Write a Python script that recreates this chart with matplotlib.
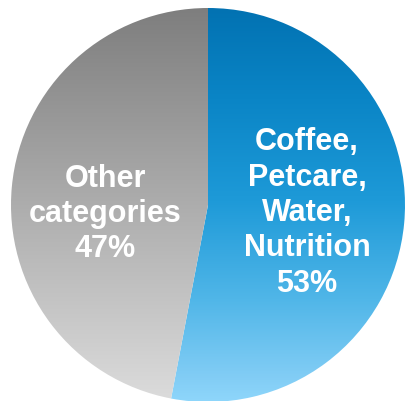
import numpy as np
import matplotlib.pyplot as plt
from matplotlib.colors import LinearSegmentedColormap

labels = ['Coffee,\nPetcare,\nWater,\nNutrition\n53%', 'Other\ncategories\n47%']
shares = [53, 47]
# colour stops of each slice, top -> bottom
grad_colors = [
    [(0.0, '#0272b2'), (0.23, '#0a85c6'), (0.49, '#1e9ad8'),
     (0.74, '#50b6e8'), (0.94, '#82cdf5'), (1.0, '#8ed6fb')],
    [(0.0, '#7e7e7e'), (1.0, '#dcdcdc')],
]

W, H = 405, 401
fig = plt.figure(figsize=(W / 100, H / 100), dpi=100)
ax = fig.add_axes([0, 0, 1, 1])

cx, cy, r = 208, 196, 197
wedges, _ = ax.pie(shares, startangle=90, counterclock=False, radius=r,
                   center=(cx, cy), frame=True,
                   wedgeprops=dict(facecolor='none', edgecolor='none'))
ax.set_xlim(0, W)
ax.set_ylim(0, H)
ax.set_aspect('equal')
ax.axis('off')

ramp = np.linspace(0, 1, 256).reshape(-1, 1)
for w, stops in zip(wedges, grad_colors):
    cmap = LinearSegmentedColormap.from_list('g', stops)
    im = ax.imshow(ramp, cmap=cmap, aspect='auto', origin='upper',
                   extent=(cx - r, cx + r, cy - r, cy + r), zorder=1)
    im.set_clip_path(w)

txt = dict(color='white', fontsize=22, fontweight='bold', ha='center',
           va='center', linespacing=1.23, family='Liberation Sans', zorder=3)
ax.text(307, 188, labels[0], **txt)
ax.text(105, 187, labels[1], **txt)

fig.savefig('out.png', dpi=100)
